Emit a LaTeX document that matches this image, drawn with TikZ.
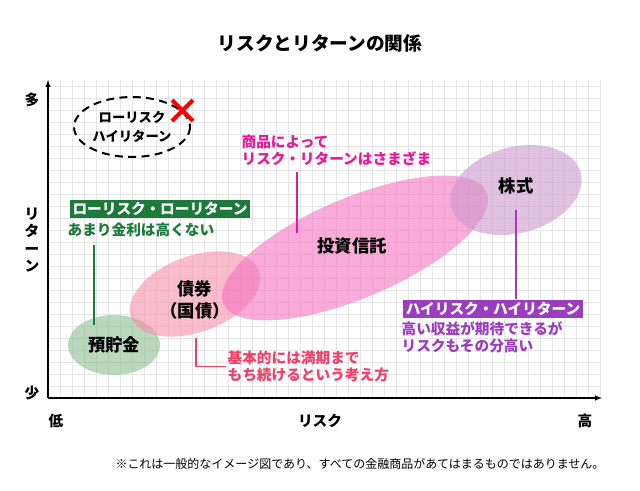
\documentclass[tikz,border=0pt]{standalone}
\usepackage{fontspec}
\setmainfont{Noto Sans CJK JP}
\usetikzlibrary{positioning}
\definecolor{lowgreen}{HTML}{1E7A3A}
\definecolor{highpurple}{HTML}{9B3DBF}
\definecolor{trustpink}{HTML}{E6199B}
\definecolor{bondred}{HTML}{F0406A}
\definecolor{bondfill}{HTML}{F590AC}
\definecolor{savefill}{HTML}{8CBF8F}
\tikzset{
  blob/.style={draw=none,fill opacity=0.6},
  lbl/.style={font=\bfseries\fontsize{11}{13}\selectfont,align=left,inner sep=1pt},
  tagbox/.style={font=\bfseries\fontsize{11}{13}\selectfont,text=white,inner sep=2pt},
  item/.style={font=\bfseries\fontsize{13}{16}\selectfont,align=center,inner sep=1pt}
}
\begin{document}
\begin{tikzpicture}[x=0.75pt,y=-0.75pt,line join=round,>=latex]
  \useasboundingbox (0,0) rectangle (640,490);
  \fill[white] (0,0) rectangle (640,490);
  % grid
  \foreach \i in {0,...,46} {
      \draw [color=black!10] (48+\i*12,80) -- (48+\i*12,398);
    }
  \foreach \j in {0,...,26} {
      \draw [color=black!10] (48,398-\j*12) -- (600,398-\j*12);
    }
  % ellipses
  \fill[blob,fill=savefill] (114,345) ellipse [x radius=46,y radius=30];
  \fill[blob,fill=bondfill,rotate around={20:(195,294)}] (195,294) ellipse [x radius=68,y radius=38];
  \fill[blob,fill=magenta!55,rotate around={23:(355,248)}] (355,248) ellipse [x radius=143,y radius=50];
  \fill[blob,fill=violet!40,rotate around={15:(516,190)}] (516,190) ellipse [x radius=67,y radius=43];
  \draw[dashed,line width=1.5pt,dash pattern=on 6pt off 4pt] (132,127) ellipse [x radius=58,y radius=30];
  \draw[red,line width=3pt] (172,100) -- (193,121) (193,100) -- (172,121);
  % axes
  \draw[thick,->] (48,398) -- (48,80);
  \draw[thick,->] (48,398) -- (602,398);
  \node[font=\bfseries\fontsize{14}{16}\selectfont] (title) at (320,43) {リスクとリターンの関係};
  \node[lbl] (many) at (32,100) {多};
  \node[lbl] (few) at (32,393) {少};
  \node[lbl,align=center] (ret) at (32,240) {リ\\タ\\ー\\ン};
  \node[lbl] (low) at (56,421) {低};
  \node[lbl] (risk) at (320,421) {リスク};
  \node[lbl] (high) at (585,421) {高};
  % items
  \node[lbl,font=\bfseries\fontsize{10}{14}\selectfont,align=center] (ideal) at (132,127) {ローリスク\\ハイリターン};
  \node[item] (savings) at (114,345) {預貯金};
  \node[item] (bonds) at (195,300) {債券\\（国債）};
  \node[item] (trust) at (352,246) {投資信託};
  \node[item] (stocks) at (516,186) {株式};
  % notes
  \node[tagbox,fill=lowgreen] (lowtag) at (160,209) {ローリスク・ローリターン};
  \node[lbl,text=lowgreen,anchor=west] (lownote) at (66,230) {あまり金利は高くない};
  \coordinate (lowend) at (94,325);
  \draw[lowgreen,thick] (94,245) -- (lowend);
  \node[lbl,text=trustpink,anchor=north west] (trustnote) at (240,133) {商品によって\\リスク・リターンはさまざま};
  \coordinate (trustend) at (297,233);
  \draw[trustpink,thick] (297,172) -- (trustend);
  \node[lbl,text=bondred,anchor=north west] (bondnote) at (226,349) {基本的には満期まで\\もち続けるという考え方};
  \draw[bondred,thick] (196,338) |- (bondnote.west);
  \node[tagbox,fill=highpurple] (hightag) at (493,309) {ハイリスク・ハイリターン};
  \node[lbl,text=highpurple,anchor=north west] (highnote) at (400,320) {高い収益が期待できるが\\リスクもその分高い};
  \draw[highpurple,thick] (516,210) -- (hightag.north -| 516,0);
  \node[font=\fontsize{9}{11}\selectfont] (foot) at (360,464) {※これは一般的なイメージ図であり、すべての金融商品があてはまるものではありません。};
\end{tikzpicture}
\end{document}
